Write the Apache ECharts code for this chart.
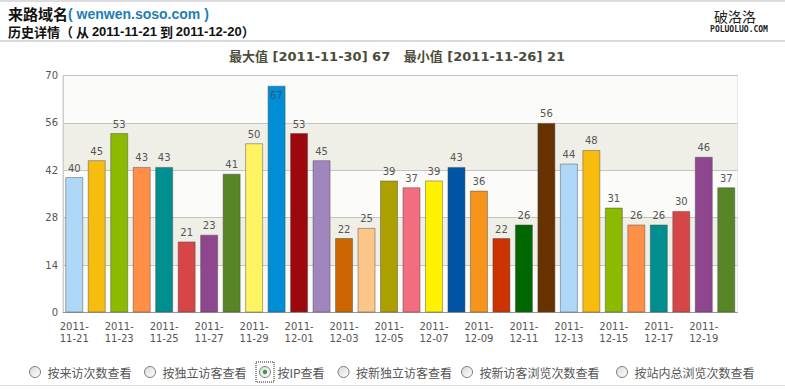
<!DOCTYPE html>
<html><head><meta charset="utf-8">
<script src="https://cdn.jsdelivr.net/npm/echarts@6/dist/echarts.min.js"></script>
<style>html,body{margin:0;padding:0;background:#fff}#c{width:785px;height:389px}</style>
</head><body><div id="c"></div>
<script>
const categories = ['2011-11-21','2011-11-22','2011-11-23','2011-11-24','2011-11-25','2011-11-26','2011-11-27','2011-11-28','2011-11-29','2011-11-30',
 '2011-12-01','2011-12-02','2011-12-03','2011-12-04','2011-12-05','2011-12-06','2011-12-07','2011-12-08','2011-12-09','2011-12-10',
 '2011-12-11','2011-12-12','2011-12-13','2011-12-14','2011-12-15','2011-12-16','2011-12-17','2011-12-18','2011-12-19','2011-12-20'];
const values = [40,45,53,43,43,21,23,41,50,67,53,45,22,25,39,37,39,43,36,22,26,56,44,48,31,26,26,30,46,37];
const yTicks = [0,14,28,42,56,70];
const palette = ['#afd8f8','#f6bd0f','#8bba00','#ff8e46','#008e8e','#d64646','#8e468e','#588526','#fff263','#008ed6',
 '#9d080d','#a186be','#cc6600','#fdc689','#aba000','#f26d7d','#fff200','#0054a6','#f7941c','#cc3300','#006600','#663300'];
const radios = ['按来访次数查看','按独立访客查看','按IP查看','按新独立访客查看','按新访客浏览次数查看','按站内总浏览次数查看'];
const radioX = [35,150,265,343.5,467,622];
const selectedRadio = 2;

const maxV = Math.max(...values), minV = Math.min(...values);
const maxI = values.indexOf(maxV), minI = values.indexOf(minV);
const titleText = '最大值 [' + categories[maxI] + '] ' + maxV + '   最小值 [' + categories[minI] + '] ' + minV;

const chart = echarts.init(document.getElementById('c'), null, {renderer:'svg'});
const cjk = '"Noto Sans CJK SC", sans-serif';
const graphics = [
  {type:'line', shape:{x1:0,y1:1,x2:785,y2:1}, style:{stroke:'#dcdcdc', lineWidth:2}},
  {type:'line', shape:{x1:0,y1:41,x2:785,y2:41}, style:{stroke:'#d6dbdb', lineWidth:2}},
  {type:'line', shape:{x1:0,y1:385.5,x2:785,y2:385.5}, style:{stroke:'#dddddd', lineWidth:1}},
  {type:'text', style:{x:8, y:13.5, textVerticalAlign:'middle', text:'{a|来路域名}{b|( wenwen.soso.com )}',
    rich:{a:{font:'bold 15px '+cjk, fill:'#111', lineHeight:14}, b:{font:'bold 14px "Liberation Sans", Arial, sans-serif', fill:'#1f7db3', lineHeight:14}}}},
  {type:'text', style:{x:8, y:31.5, textVerticalAlign:'middle', text:'{a|历史详情（}{b| 从 }{c|2011-11-21}{b| 到 }{c|2011-12-20}{a|）}',
    rich:{a:{font:'bold 13px '+cjk, fill:'#111', lineHeight:12}, b:{font:'bold 13px '+cjk, fill:'#111', lineHeight:12}, c:{font:'bold 13px "Liberation Sans", Arial, sans-serif', fill:'#111', lineHeight:12}}}},
  {type:'text', style:{x:735, y:16, textAlign:'center', textVerticalAlign:'middle', text:'破洛洛', font:'14px '+cjk, fill:'#222'}},
  {type:'text', style:{x:739, y:29, textAlign:'center', textVerticalAlign:'middle', text:'POLUOLUO.COM', font:'bold 8px "DejaVu Sans Mono", monospace', fill:'#222'}},
  {type:'text', style:{x:397, y:56, textAlign:'center', textVerticalAlign:'middle', text:titleText, font:'bold 13px "DejaVu Sans", '+cjk, fill:'#4c4c3c'}}
];
radios.forEach((t,i)=>{
  const cx = radioX[i], cy = 372;
  graphics.push({type:'circle', shape:{cx:cx, cy:cy, r:5.5}, style:{fill:{type:'linear',x:0,y:0,x2:1,y2:1,colorStops:[{offset:0,color:'#d8d8d8'},{offset:1,color:'#ffffff'}]}, stroke:'#7a7a7a', lineWidth:1}});
  if(i===selectedRadio){
    graphics.push({type:'circle', shape:{cx:cx, cy:cy, r:2.2}, style:{fill:'#3c9a3c'}});
    graphics.push({type:'rect', shape:{x:cx-9, y:cy-10, width:18, height:20}, style:{fill:'none', stroke:'#222', lineWidth:1, lineDash:[1,1]}});
  }
  graphics.push({type:'text', style:{x:cx+12.5, y:cy, textVerticalAlign:'middle', text:t, font:'12px '+cjk, fill:'#555'}});
});

chart.setOption({
  animation:false,
  graphic: graphics,
  grid:{left:63, right:47.5, top:75.5, bottom:76.5, show:true, borderColor:'#d4d4d4', borderWidth:1, containLabel:false},
  xAxis:{type:'category', data:categories,
    axisLine:{lineStyle:{color:'#9a9a9a'}}, axisTick:{show:false},
    axisLabel:{interval:1, margin:8, color:'#555', fontSize:10, fontFamily:'DejaVu Sans', lineHeight:12,
      formatter:v=>v.replace('-', '-\n')}},
  yAxis:{type:'value', min:0, max:70, interval:14,
    axisLine:{show:true, lineStyle:{color:'#cccccc'}}, axisTick:{show:false},
    axisLabel:{margin:5, color:'#555', fontSize:10, fontFamily:'DejaVu Sans', customValues:yTicks},
    splitLine:{lineStyle:{color:'#c4c4c4'}},
    splitArea:{show:true, areaStyle:{color:['#fbfbf9','#efefe8']}}},
  series:[{type:'bar', barWidth:18,
    data: values.map((v,i)=>({value:v,
      itemStyle:{color:palette[i%palette.length], borderColor:'rgba(70,70,70,0.45)', borderWidth:1},
      label: i===maxI ? {position:'insideTop', distance:5, color:'#3a5a7a'} : undefined})),
    label:{show:true, position:'top', distance:4, color:'#555', fontSize:10, fontFamily:'DejaVu Sans'}
  }]
});
</script></body></html>
